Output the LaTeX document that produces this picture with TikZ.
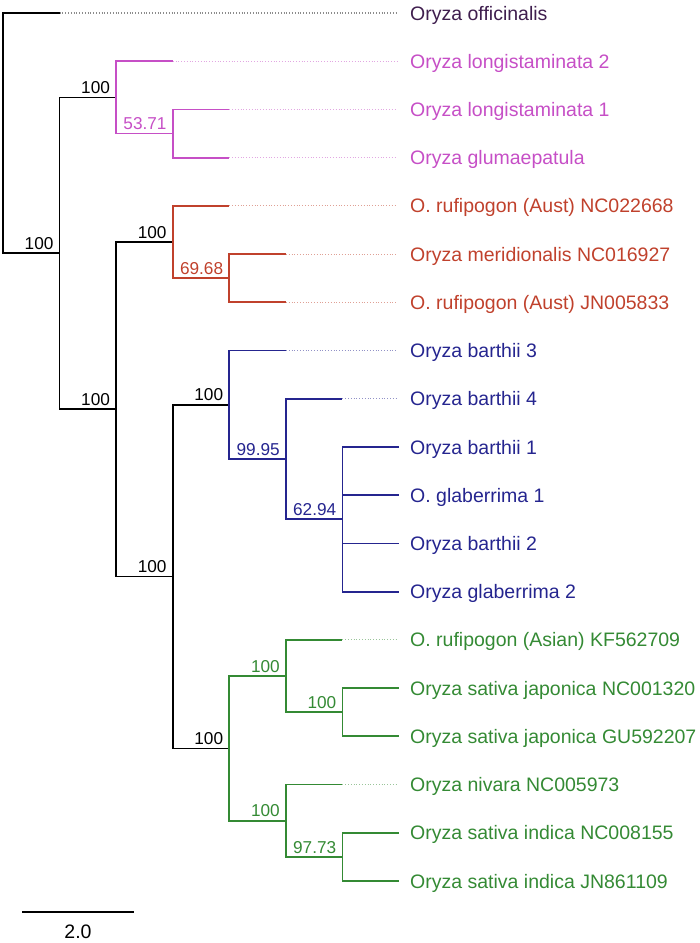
\documentclass[tikz,border=0pt]{standalone}
\usepackage{fontspec}
\setmainfont{Liberation Sans}
\usetikzlibrary{positioning}
\definecolor{outgroup}{HTML}{3F1E4E}
\definecolor{cladepink}{HTML}{C64FC6}
\definecolor{cladered}{HTML}{C0412C}
\definecolor{cladeblue}{HTML}{25258F}
\definecolor{cladegreen}{HTML}{348A34}
\tikzset{
  branch/.style={line width=1.7pt},
  guide/.style={line width=1.1pt, dash pattern=on 1pt off 1.8pt, shorten >=13pt},
  leaflabel/.style={anchor=base west, inner sep=0pt, font=\fontsize{19.5}{23}\selectfont},
  support/.style={anchor=south east, inner sep=0pt, xshift=-6pt, yshift=3.5pt,
    font=\fontsize{17.2}{20}\selectfont},
  scalelabel/.style={inner sep=0pt, font=\fontsize{19.5}{23}\selectfont}
}

\begin{document}
\begin{tikzpicture}[x=1pt, y=-1pt]
\useasboundingbox (0,0) rectangle (700,943);

% internal nodes
\coordinate (root) at (3,133);
\coordinate (n1) at (59.6,253.3);
\coordinate (pink) at (116.1,97.4);
\coordinate (pinksub) at (172.7,133.6);
\coordinate (n2) at (116.1,409.3);
\coordinate (red) at (172.7,242.0);
\coordinate (redsub) at (229.3,278.2);
\coordinate (n3) at (172.7,576.6);
\coordinate (blue) at (229.3,404.8);
\coordinate (bluesub) at (285.9,459.1);
\coordinate (bluesubb) at (342.4,519.3);
\coordinate (green) at (229.3,748.4);
\coordinate (greena) at (285.9,676.0);
\coordinate (greenaa) at (342.4,712.2);
\coordinate (greenb) at (285.9,820.7);
\coordinate (greenbb) at (342.4,856.9);

% branch tips
\coordinate (offtip) at (59.6,13);
\coordinate (lontwotip) at (172.7,61.2);
\coordinate (lononetip) at (229.3,109.4);
\coordinate (glutip) at (229.3,157.7);
\coordinate (rufatip) at (229.3,205.9);
\coordinate (mertip) at (285.9,254.1);
\coordinate (rufbtip) at (285.9,302.3);
\coordinate (barthreetip) at (285.9,350.6);
\coordinate (barfourtip) at (342.4,398.8);
\coordinate (baronetip) at (399,447.0);
\coordinate (glaonetip) at (399,495.2);
\coordinate (bartwotip) at (399,543.4);
\coordinate (glatwotip) at (399,591.7);
\coordinate (rufctip) at (342.4,639.9);
\coordinate (japatip) at (399,688.1);
\coordinate (japbtip) at (399,736.3);
\coordinate (nivtip) at (342.4,784.6);
\coordinate (indatip) at (399,832.8);
\coordinate (indbtip) at (399,881);

% leaf labels
\node[leaflabel, text=outgroup] (offlab) at (410,20) {Oryza officinalis};
\node[leaflabel, text=cladepink] (lontwolab) at (410,68.2) {Oryza longistaminata 2};
\node[leaflabel, text=cladepink] (lononelab) at (410,116.4) {Oryza longistaminata 1};
\node[leaflabel, text=cladepink] (glulab) at (410,164.7) {Oryza glumaepatula};
\node[leaflabel, text=cladered] (rufalab) at (410,212.9) {O. rufipogon (Aust) NC022668};
\node[leaflabel, text=cladered] (merlab) at (410,261.1) {Oryza meridionalis NC016927};
\node[leaflabel, text=cladered] (rufblab) at (410,309.3) {O. rufipogon (Aust) JN005833};
\node[leaflabel, text=cladeblue] (barthreelab) at (410,357.6) {Oryza barthii 3};
\node[leaflabel, text=cladeblue] (barfourlab) at (410,405.8) {Oryza barthii 4};
\node[leaflabel, text=cladeblue] (baronelab) at (410,454.0) {Oryza barthii 1};
\node[leaflabel, text=cladeblue] (glaonelab) at (410,502.2) {O. glaberrima 1};
\node[leaflabel, text=cladeblue] (bartwolab) at (410,550.4) {Oryza barthii 2};
\node[leaflabel, text=cladeblue] (glatwolab) at (410,598.7) {Oryza glaberrima 2};
\node[leaflabel, text=cladegreen] (rufclab) at (410,646.9) {O. rufipogon (Asian) KF562709};
\node[leaflabel, text=cladegreen] (japalab) at (410,695.1) {Oryza sativa japonica NC001320};
\node[leaflabel, text=cladegreen] (japblab) at (410,743.3) {Oryza sativa japonica GU592207};
\node[leaflabel, text=cladegreen] (nivlab) at (410,791.6) {Oryza nivara NC005973};
\node[leaflabel, text=cladegreen] (indalab) at (410,839.8) {Oryza sativa indica NC008155};
\node[leaflabel, text=cladegreen] (indblab) at (410,888) {Oryza sativa indica JN861109};

% branches
\draw[branch] (root) |- (offtip);
\draw[branch] (root) |- (n1);
\draw[branch] (n1) |- (pink);
\draw[branch] (n1) |- (n2);
\draw[branch, cladepink] (pink) |- (lontwotip);
\draw[branch, cladepink] (pink) |- (pinksub);
\draw[branch, cladepink] (pinksub) |- (lononetip);
\draw[branch, cladepink] (pinksub) |- (glutip);
\draw[branch] (n2) |- (red);
\draw[branch] (n2) |- (n3);
\draw[branch, cladered] (red) |- (rufatip);
\draw[branch, cladered] (red) |- (redsub);
\draw[branch, cladered] (redsub) |- (mertip);
\draw[branch, cladered] (redsub) |- (rufbtip);
\draw[branch] (n3) |- (blue);
\draw[branch] (n3) |- (green);
\draw[branch, cladeblue] (blue) |- (barthreetip);
\draw[branch, cladeblue] (blue) |- (bluesub);
\draw[branch, cladeblue] (bluesub) |- (barfourtip);
\draw[branch, cladeblue] (bluesub) |- (bluesubb);
\draw[branch, cladeblue] (bluesubb) |- (baronetip);
\draw[branch, cladeblue] (bluesubb) |- (glaonetip);
\draw[branch, cladeblue] (bluesubb) |- (bartwotip);
\draw[branch, cladeblue] (bluesubb) |- (glatwotip);
\draw[branch, cladegreen] (green) |- (greena);
\draw[branch, cladegreen] (green) |- (greenb);
\draw[branch, cladegreen] (greena) |- (rufctip);
\draw[branch, cladegreen] (greena) |- (greenaa);
\draw[branch, cladegreen] (greenaa) |- (japatip);
\draw[branch, cladegreen] (greenaa) |- (japbtip);
\draw[branch, cladegreen] (greenb) |- (nivtip);
\draw[branch, cladegreen] (greenb) |- (greenbb);
\draw[branch, cladegreen] (greenbb) |- (indatip);
\draw[branch, cladegreen] (greenbb) |- (indbtip);

% dotted guides to labels
\draw[guide, black!45] (offtip) -- (offtip -| offlab.west);
\draw[guide, cladepink!50] (lontwotip) -- (lontwotip -| lontwolab.west);
\draw[guide, cladepink!50] (lononetip) -- (lononetip -| lononelab.west);
\draw[guide, cladepink!50] (glutip) -- (glutip -| glulab.west);
\draw[guide, cladered!50] (rufatip) -- (rufatip -| rufalab.west);
\draw[guide, cladered!50] (mertip) -- (mertip -| merlab.west);
\draw[guide, cladered!50] (rufbtip) -- (rufbtip -| rufblab.west);
\draw[guide, cladeblue!50] (barthreetip) -- (barthreetip -| barthreelab.west);
\draw[guide, cladeblue!50] (barfourtip) -- (barfourtip -| barfourlab.west);
\draw[guide, cladegreen!50] (rufctip) -- (rufctip -| rufclab.west);
\draw[guide, cladegreen!50] (nivtip) -- (nivtip -| nivlab.west);

% support values
\node[support] (bsnone) at (n1) {100};
\node[support] (bspink) at (pink) {100};
\node[support, text=cladepink] (bspinksub) at (pinksub) {53.71};
\node[support] (bsntwo) at (n2) {100};
\node[support] (bsred) at (red) {100};
\node[support, text=cladered] (bsredsub) at (redsub) {69.68};
\node[support] (bsnthree) at (n3) {100};
\node[support] (bsblue) at (blue) {100};
\node[support, text=cladeblue] (bsbluesub) at (bluesub) {99.95};
\node[support, text=cladeblue] (bsbluesubb) at (bluesubb) {62.94};
\node[support] (bsgreen) at (green) {100};
\node[support, text=cladegreen] (bsgreena) at (greena) {100};
\node[support, text=cladegreen] (bsgreenaa) at (greenaa) {100};
\node[support, text=cladegreen] (bsgreenb) at (greenb) {100};
\node[support, text=cladegreen] (bsgreenbb) at (greenbb) {97.73};

% scale bar
\coordinate (barleft) at (22,912);
\coordinate (barright) at (134,912);
\coordinate (barmid) at (78,912);
\draw[branch] (barleft) -- (barright);
\node[scalelabel, below=13pt of barmid] (barlab) {2.0};
\end{tikzpicture}
\end{document}
